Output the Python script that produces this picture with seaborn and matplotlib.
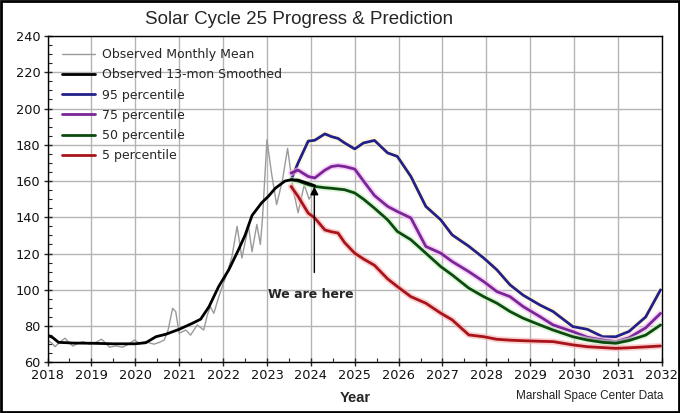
import matplotlib
matplotlib.use("Agg")
import matplotlib.pyplot as plt
import matplotlib.patheffects as pe
from matplotlib.patches import Rectangle
from matplotlib.ticker import MultipleLocator
import numpy as np
import pandas as pd
import seaborn as sns

# observed monthly mean
mean_year = [2018.0, 2018.1, 2018.17, 2018.3, 2018.4, 2018.5, 2018.58, 2018.7, 2018.81, 2018.95,
             2019.1, 2019.23, 2019.33, 2019.41, 2019.55, 2019.71, 2019.85, 2019.98, 2020.09,
             2020.24, 2020.35, 2020.43, 2020.55, 2020.66, 2020.75, 2020.85, 2020.92, 2021.0,
             2021.15, 2021.26, 2021.41, 2021.56, 2021.64, 2021.71, 2021.79, 2021.9, 2022.0,
             2022.1, 2022.2, 2022.32, 2022.43, 2022.5, 2022.58, 2022.66, 2022.77, 2022.85,
             2022.9, 2023.0, 2023.1, 2023.22, 2023.35, 2023.47, 2023.6, 2023.71, 2023.85,
             2023.96, 2024.09]
mean_val = [72.3, 70.5, 68.6, 71.5, 73.3, 70.5, 69.0, 70.5, 71.4, 70.0,
            71.0, 72.7, 70.5, 68.3, 69.0, 68.3, 70.0, 72.3, 70.5,
            71.4, 70.5, 70.0, 71.0, 72.3, 78.0, 89.8, 88.0, 76.0,
            77.8, 75.0, 80.6, 77.8, 86.0, 90.7, 87.0, 96.0, 103.0,
            110.0, 118.0, 135.0, 117.5, 126.0, 135.0, 121.0, 136.0, 125.0,
            140.0, 182.8, 165.0, 147.0, 160.0, 178.0, 155.0, 142.5, 158.0,
            150.0, 155.0]

# observed 13-month smoothed
smooth_year = [2018.0, 2018.12, 2018.25, 2018.6, 2019.0, 2019.5, 2020.0, 2020.24, 2020.47,
               2020.7, 2021.0, 2021.3, 2021.49, 2021.68, 2021.9, 2022.13, 2022.35, 2022.5,
               2022.66, 2022.88, 2023.03, 2023.19, 2023.41, 2023.56, 2023.71, 2023.9, 2024.09]
smooth_val = [75.0, 73.6, 71.0, 70.6, 70.5, 70.2, 70.2, 70.8, 74.1,
              75.5, 78.2, 81.5, 83.8, 90.7, 101.8, 111.0, 122.0, 130.0,
              141.0, 148.0, 151.5, 156.0, 160.0, 160.7, 160.5, 159.0, 157.4]

# predictions
pred_year = [2023.55, 2023.71, 2023.94, 2024.09, 2024.32, 2024.47, 2024.62, 2024.77, 2025.0,
             2025.2, 2025.45, 2025.75, 2025.97, 2026.28, 2026.62, 2026.96, 2027.22, 2027.6,
             2027.94, 2028.24, 2028.54, 2028.84, 2029.22, 2029.52, 2029.97, 2030.3, 2030.65,
             2030.95, 2031.25, 2031.63, 2031.97]
p95 = [160.7, 170.0, 182.0, 182.5, 186.0, 184.5, 183.5, 181.0, 177.7,
       181.0, 182.4, 175.5, 173.6, 162.5, 146.0, 138.6, 130.3, 124.0,
       117.5, 111.0, 102.7, 97.0, 91.6, 88.0, 79.7, 78.2, 74.1,
       74.1, 77.0, 85.0, 100.0]
p75 = [164.4, 166.0, 162.5, 161.7, 166.0, 168.0, 168.5, 168.0, 166.6,
       160.0, 152.0, 146.0, 143.2, 139.6, 123.9, 120.2, 115.6, 110.0,
       104.5, 99.0, 96.2, 90.7, 85.2, 80.6, 76.9, 73.8, 72.3,
       71.4, 73.5, 79.0, 87.0]
p50 = [160.7, 160.0, 158.0, 157.0, 156.3, 156.0, 155.6, 155.2, 153.4,
       150.0, 145.0, 138.6, 132.2, 127.6, 120.2, 112.8, 108.2, 100.9,
       96.2, 92.6, 88.0, 84.3, 80.6, 77.8, 74.1, 72.3, 71.0,
       70.5, 72.0, 75.0, 80.6]
p05 = [157.0, 151.5, 142.3, 139.6, 133.0, 132.0, 131.3, 126.0, 120.2,
       117.0, 113.5, 106.0, 101.8, 96.2, 92.6, 87.1, 83.4, 75.1,
       74.1, 72.7, 72.2, 71.9, 71.6, 71.4, 69.6, 68.6, 68.1,
       67.7, 68.0, 68.5, 69.0]

x_ticks = list(range(2018, 2033))
y_ticks = list(range(60, 241, 20))

sns.set_style("ticks")
plt.rcParams['font.family'] = ['DejaVu Sans']

fig = plt.figure(figsize=(6.8, 4.13), dpi=100)
ax = fig.add_axes([0.0699, 0.1228, 0.9035, 0.79])

ax.grid(True, which="major", color="#b4b4b4", linewidth=1.0)
ax.set_axisbelow(True)

sns.lineplot(x=mean_year, y=mean_val, ax=ax, color="#9a9a9a", linewidth=1.0,
             label="Observed Monthly Mean", zorder=2)
sns.lineplot(x=smooth_year, y=smooth_val, ax=ax, color="black", linewidth=2.0,
             label="Observed 13-mon Smoothed", zorder=4)

pred_df = pd.DataFrame({"year": pred_year, "95 percentile": p95, "75 percentile": p75,
                        "50 percentile": p50, "5 percentile": p05})
colors = {"95 percentile": ("#22208a", "#fff6c8"),
          "75 percentile": ("#7a2598", "#f2b8f0"),
          "50 percentile": ("#0c4a10", "#c8f0c0"),
          "5 percentile": ("#a8141a", "#f7b0b0")}
for name, (c, halo) in colors.items():
    sns.lineplot(data=pred_df, x="year", y=name, ax=ax, color=c, linewidth=2.0, label=name,
                 zorder=3,
                 path_effects=[pe.Stroke(linewidth=4.5, foreground=halo, alpha=0.6), pe.Normal()])

ax.set_xlim(2018, 2032)
ax.set_ylim(60, 240)
ax.set_xticks(x_ticks)
ax.set_yticks(y_ticks)
ax.xaxis.set_minor_locator(MultipleLocator(0.5))
ax.yaxis.set_minor_locator(MultipleLocator(5))
ax.tick_params(which="major", direction="inout", length=6, width=1, labelsize=9.3, pad=2,
               labelcolor="#111111")
ax.tick_params(which="minor", direction="in", length=3, width=0.8)
for s in ax.spines.values():
    s.set_color("black")
    s.set_linewidth(1.0)
ax.set_xlabel("")
ax.set_ylabel("")

leg = ax.legend(loc="upper left", frameon=False, fontsize=9, handlelength=2.6,
                labelspacing=0.58, borderaxespad=0.3, handletextpad=0.6,
                bbox_to_anchor=(0.01, 0.99))
for line in leg.get_lines():
    line.set_path_effects([])

ax.annotate("", xy=(2024.08, 158.5), xytext=(2024.08, 108),
            arrowprops=dict(arrowstyle="-|>", color="black", lw=1.0, mutation_scale=12),
            zorder=5)
ax.text(2024.0, 97.5, "We are here", ha="center", va="center", fontsize=9,
        fontweight="bold")

fig.text(0.44, 0.952, "Solar Cycle 25 Progress & Prediction", ha="center", va="center",
         fontsize=13.5, family="Liberation Sans")
fig.text(0.523, 0.036, "Year", ha="center", va="center", fontsize=10.5,
         family="Liberation Sans", fontweight="bold")
fig.text(0.975, 0.04, "Marshall Space Center Data", ha="right", va="center", fontsize=8.5,
         family="Liberation Sans", color="#222222")

fig.patches.append(Rectangle((0.002, 0.003), 0.996, 0.994, transform=fig.transFigure,
                             fill=False, edgecolor="black", linewidth=2.0))

fig.savefig("out.png", dpi=100)
